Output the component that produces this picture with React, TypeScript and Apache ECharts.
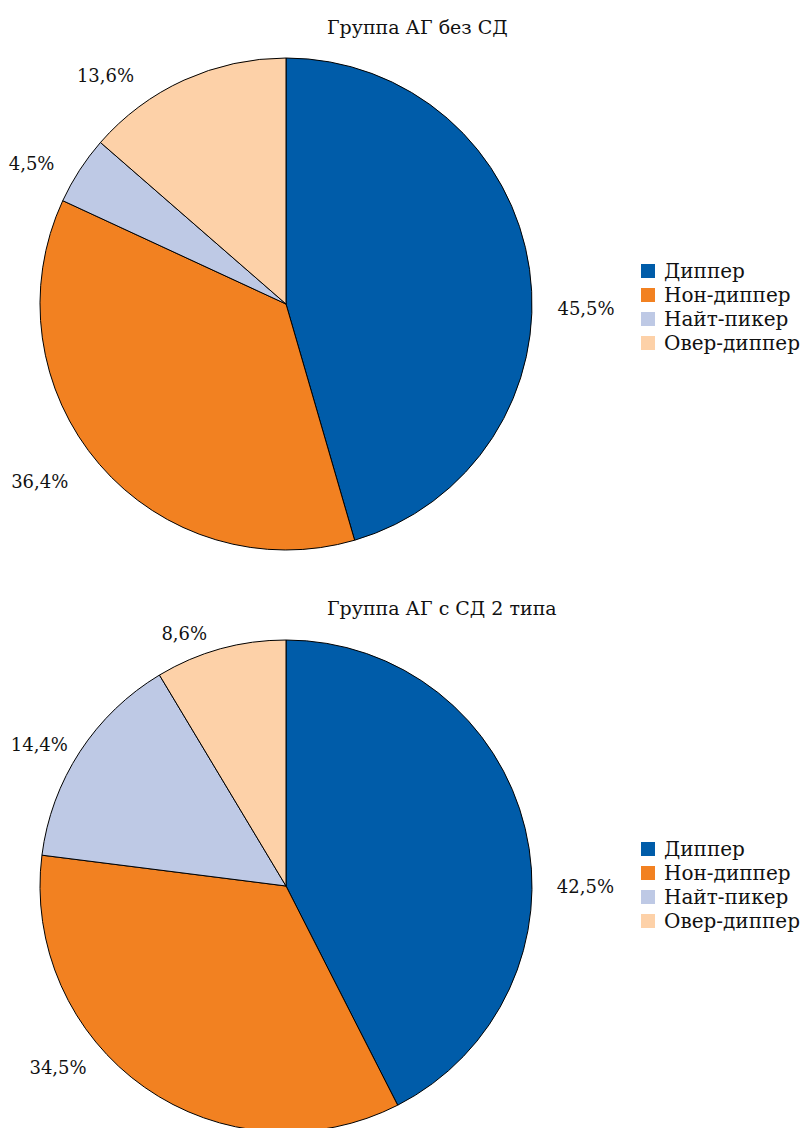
import React, { useEffect, useRef } from "react";
import * as echarts from "echarts";

const categories = ["Диппер", "Нон-диппер", "Найт-пикер", "Овер-диппер"];
const titles = ["Группа АГ без СД", "Группа АГ с СД 2 типа"];
const valuesNoDM = [45.5, 36.4, 4.5, 13.6];
const valuesDM2 = [42.5, 34.5, 14.4, 8.6];
const colors = ["#005CA9", "#F28121", "#BEC9E5", "#FDD1A8"];
// label nudges (px) relative to the library's outside label position
const nudgeNoDM = [[11, 41], [-17, 9], [-10, 0], [-40, 6]];
const nudgeDM2 = [[15, 61], [-46, -30], [3, -1], [-5, -4]];

const FONT = "DejaVu Serif";

export default function App() {
  const ref = useRef<HTMLDivElement>(null);
  useEffect(() => {
    document.body.style.margin = "0";
    const chart = echarts.init(ref.current!, null, { renderer: "svg" });
    const makeSeries = (vals: number[], cy: number, nudge: number[][]) => ({
      type: "pie",
      center: [286, cy],
      radius: 246,
      startAngle: 90,
      clockwise: true,
      silent: true,
      avoidLabelOverlap: false,
      data: vals.map((v, i) => ({ name: categories[i], value: v, itemStyle: { color: colors[i] } })),
      itemStyle: { borderColor: "#000", borderWidth: 1 },
      label: {
        show: true,
        position: "outside",
        formatter: (p: any) => String(p.value).replace(".", ",") + "%",
        fontFamily: FONT,
        fontSize: 18,
        color: "#111",
      },
      labelLine: { show: false, length: 12, length2: 0 },
      labelLayout: (p: any) => ({ dx: nudge[p.dataIndex][0], dy: nudge[p.dataIndex][1] }),
    });
    const legend = (top: number) => ({
      data: categories,
      orient: "vertical",
      left: 636,
      top,
      icon: "rect",
      itemWidth: 14,
      itemHeight: 14,
      itemGap: 4,
      selectedMode: false,
      itemStyle: { borderWidth: 0 },
      textStyle: { fontFamily: FONT, fontSize: 20, lineHeight: 20, color: "#111", padding: [0, 0, 0, 4] },
    });
    const titleStyle = { fontFamily: FONT, fontSize: 19, fontWeight: "normal", color: "#111" };
    chart.setOption({
      animation: false,
      title: [
        { text: titles[0], left: 322, top: 12, textStyle: titleStyle },
        { text: titles[1], left: 322, top: 593, textStyle: titleStyle },
      ],
      legend: [legend(256), legend(834)],
      series: [makeSeries(valuesNoDM, 304, nudgeNoDM), makeSeries(valuesDM2, 886, nudgeDM2)],
    });
    return () => chart.dispose();
  }, []);
  return <div ref={ref} style={{ width: 804, height: 1128 }} />;
}
